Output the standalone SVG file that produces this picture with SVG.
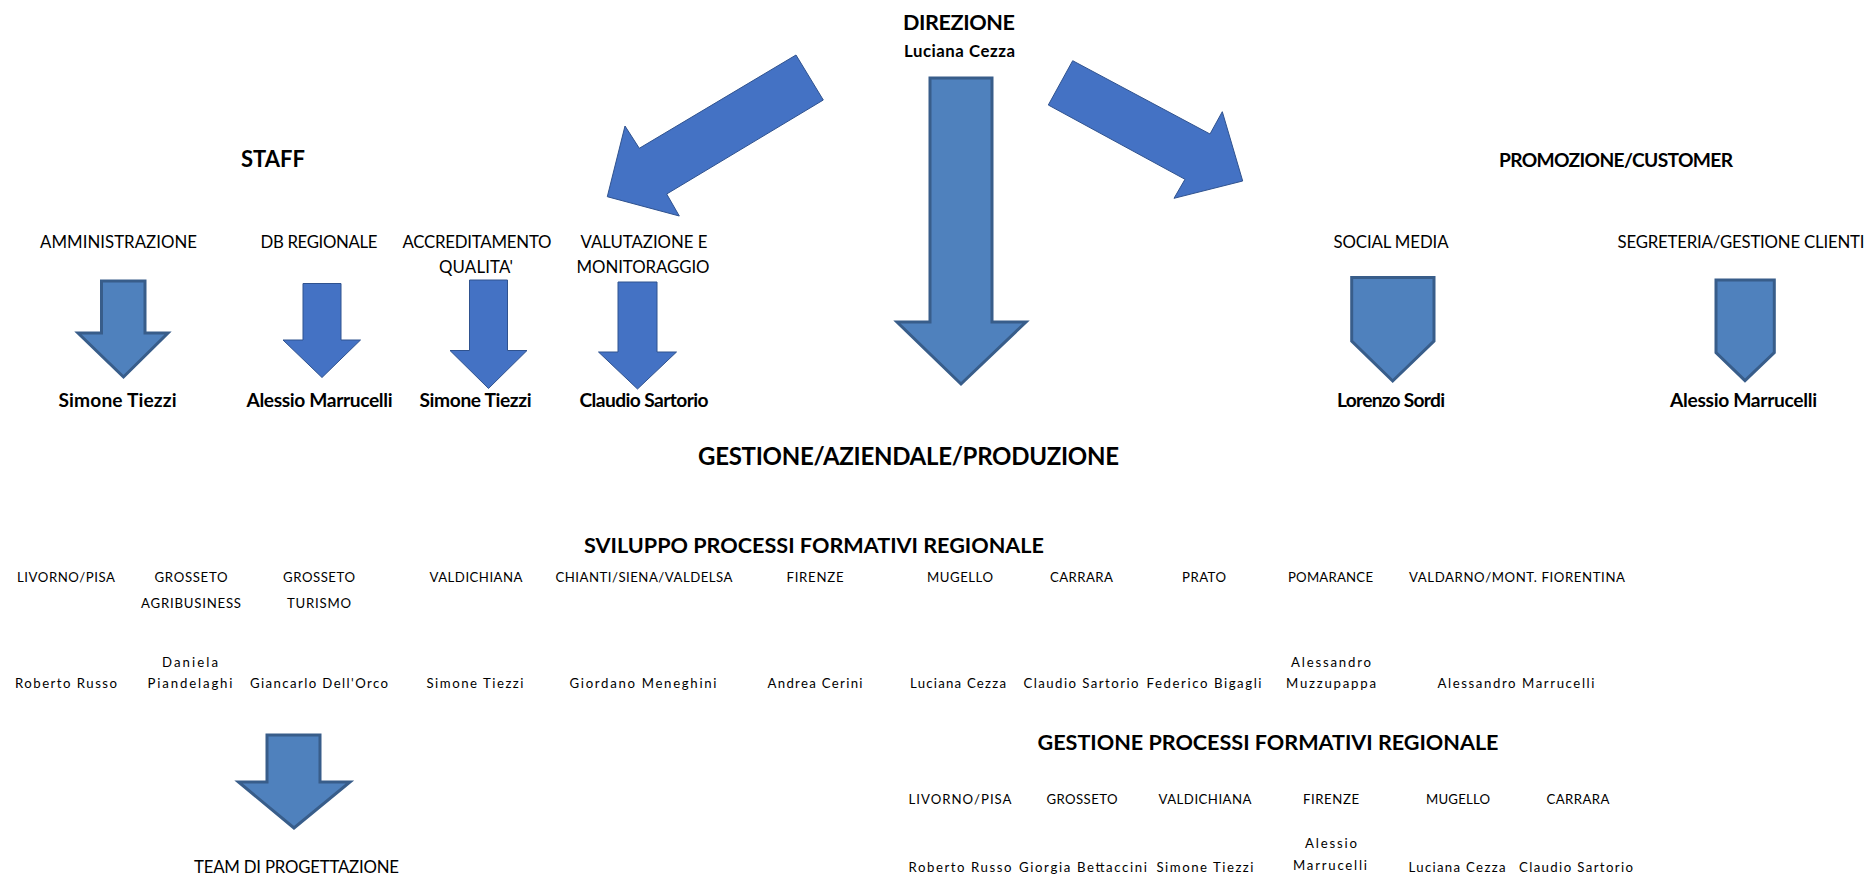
<svg xmlns="http://www.w3.org/2000/svg" width="1869" height="879" viewBox="0 0 1869 879">
<style>
text{font-family:Lato,"Liberation Sans",sans-serif;fill:#000;text-anchor:middle}
.t1{font-size:21.6px;font-weight:bold}
.nm{font-size:19.2px;font-weight:bold}
.nt{font-size:16.8px;font-weight:bold}
.hd{font-size:19.2px;font-weight:bold}
.lb{font-size:16.8px}
.bg{font-size:24px;font-weight:bold}
.sb{font-size:21.6px;font-weight:bold}
.sm{font-size:13.2px}
.a1{fill:#4F81BD;stroke:#385D8A;stroke-width:3;stroke-linejoin:miter}
.a2{fill:#4472C4;stroke:#2F528F;stroke-width:1}
</style>
<rect width="1869" height="879" fill="#fff"/>
<g id="connectors">
<polygon class="a1" points="930,78 992,78 992,322 1026,322 961,384 897,322 930,322"/>
<polygon class="a2" points="796,55 823.3,100 666.7,194 679.3,216 607.3,196.7 625,126 639.3,148.3"/>
<polygon class="a2" points="1072.7,60.7 1210,134 1222.3,111.7 1242.7,181 1174,198.3 1185,179.3 1048.3,105"/>
<polygon class="a1" points="101.5,281 145,281 145,333 168,333 123.5,377 78,333 101.5,333"/>
<polygon class="a2" points="303,283.5 341,283.5 341,340 360.5,340 322,377.5 283,340 303,340"/>
<polygon class="a2" points="469.5,280 507.5,280 507.5,350.5 527,350.5 488.5,388.5 450,350.5 469.5,350.5"/>
<polygon class="a2" points="618,282 657,282 657,352 676.5,352 637.5,389 598.5,352 618,352"/>
<polygon class="a1" points="1351.7,277.5 1434,277.5 1434,341 1392.7,381 1351.7,341"/>
<polygon class="a1" points="1716,280 1774.3,280 1774.3,352.7 1745,380.7 1716,352.7"/>
<polygon class="a1" points="267,735 320,735 320,782 350,782 294,828 238.5,782 267,782"/>
</g>
<g id="direzione">
<text class="t1" x="959" y="30" textLength="112">DIREZIONE</text>
<text class="nt" x="959.5" y="57" textLength="111">Luciana Cezza</text>
</g>
<g id="staff">
<text class="hd" x="273" y="167" style="font-size:22px">STAFF</text>
</g>
<g id="amministrazione">
<text class="lb" x="118.5" y="248" textLength="157">AMMINISTRAZIONE</text>
<text class="nm" x="117.5" y="407" textLength="118">Simone Tiezzi</text>
</g>
<g id="db-regionale">
<text class="lb" x="319" y="248" textLength="117">DB REGIONALE</text>
<text class="nm" x="319.5" y="407" textLength="146">Alessio Marrucelli</text>
</g>
<g id="accreditamento">
<text class="lb" x="477" y="248" textLength="149">ACCREDITAMENTO</text>
<text class="lb" x="476" y="273" textLength="74">QUALITA'</text>
<text class="nm" x="475.5" y="407" textLength="112">Simone Tiezzi</text>
</g>
<g id="valutazione">
<text class="lb" x="644" y="248" textLength="127">VALUTAZIONE E</text>
<text class="lb" x="643" y="273" textLength="133">MONITORAGGIO</text>
<text class="nm" x="644" y="407" textLength="129">Claudio Sartorio</text>
</g>
<g id="promozione">
<text class="hd" x="1616" y="167" textLength="234">PROMOZIONE/CUSTOMER</text>
</g>
<g id="social-media">
<text class="lb" x="1391" y="248" textLength="115">SOCIAL MEDIA</text>
<text class="nm" x="1391" y="407" textLength="108">Lorenzo Sordi</text>
</g>
<g id="segreteria">
<text class="lb" x="1741" y="248" textLength="247">SEGRETERIA/GESTIONE CLIENTI</text>
<text class="nm" x="1743.5" y="407" textLength="147">Alessio Marrucelli</text>
</g>
<g id="gestione-aziendale">
<text class="bg" x="908.5" y="465" textLength="421">GESTIONE/AZIENDALE/PRODUZIONE</text>
</g>
<g id="sviluppo">
<text class="sb" x="814" y="553" textLength="460">SVILUPPO PROCESSI FORMATIVI REGIONALE</text>
<text class="sm" x="66" y="582" textLength="98">LIVORNO/PISA</text>
<text class="sm" x="191" y="582" textLength="73">GROSSETO</text>
<text class="sm" x="191" y="608" textLength="100">AGRIBUSINESS</text>
<text class="sm" x="319" y="582" textLength="72">GROSSETO</text>
<text class="sm" x="319" y="608" textLength="64">TURISMO</text>
<text class="sm" x="476" y="582" textLength="93">VALDICHIANA</text>
<text class="sm" x="644" y="582" textLength="177">CHIANTI/SIENA/VALDELSA</text>
<text class="sm" x="815" y="582" textLength="57">FIRENZE</text>
<text class="sm" x="960" y="582" textLength="66">MUGELLO</text>
<text class="sm" x="1081.5" y="582" textLength="63">CARRARA</text>
<text class="sm" x="1204" y="582" textLength="44">PRATO</text>
<text class="sm" x="1330.5" y="582" textLength="85">POMARANCE</text>
<text class="sm" x="1517" y="582" textLength="216">VALDARNO/MONT. FIORENTINA</text>
<text class="sm" x="66" y="688" textLength="102">Roberto Russo</text>
<text class="sm" x="190" y="667" textLength="56">Daniela</text>
<text class="sm" x="190" y="688" textLength="85">Piandelaghi</text>
<text class="sm" x="319" y="688" textLength="138">Giancarlo Dell'Orco</text>
<text class="sm" x="475" y="688" textLength="97">Simone Tiezzi</text>
<text class="sm" x="643" y="688" textLength="147">Giordano Meneghini</text>
<text class="sm" x="815" y="688" textLength="95">Andrea Cerini</text>
<text class="sm" x="958" y="688" textLength="96">Luciana Cezza</text>
<text class="sm" x="1081" y="688" textLength="115">Claudio Sartorio</text>
<text class="sm" x="1204" y="688" textLength="115">Federico Bigagli</text>
<text class="sm" x="1331" y="667" textLength="80">Alessandro</text>
<text class="sm" x="1331" y="688" textLength="90">Muzzupappa</text>
<text class="sm" x="1516" y="688" textLength="157">Alessandro Marrucelli</text>
</g>
<g id="team-progettazione">
<text class="lb" x="296.5" y="873" textLength="205">TEAM DI PROGETTAZIONE</text>
</g>
<g id="gestione-processi">
<text class="sb" x="1268" y="750" textLength="461">GESTIONE PROCESSI FORMATIVI REGIONALE</text>
<text class="sm" x="960" y="804" textLength="103">LIVORNO/PISA</text>
<text class="sm" x="1082" y="804" textLength="71">GROSSETO</text>
<text class="sm" x="1205" y="804" textLength="93">VALDICHIANA</text>
<text class="sm" x="1331" y="804" textLength="56">FIRENZE</text>
<text class="sm" x="1458" y="804" textLength="64">MUGELLO</text>
<text class="sm" x="1578" y="804" textLength="63">CARRARA</text>
<text class="sm" x="960" y="872" textLength="103">Roberto Russo</text>
<text class="sm" x="1083" y="872" textLength="128">Giorgia Bettaccini</text>
<text class="sm" x="1205" y="872" textLength="97">Simone Tiezzi</text>
<text class="sm" x="1331" y="848" textLength="52">Alessio</text>
<text class="sm" x="1330" y="870" textLength="74">Marrucelli</text>
<text class="sm" x="1457" y="872" textLength="97">Luciana Cezza</text>
<text class="sm" x="1576" y="872" textLength="114">Claudio Sartorio</text>
</g>
</svg>
